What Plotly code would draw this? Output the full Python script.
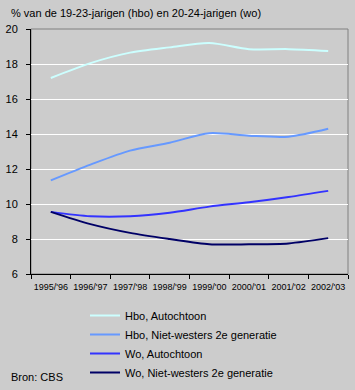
import plotly.graph_objects as go

categories = ["1995/'96", "1996/'97", "1997/'98", "1998/'99", "1999/'00", "2000/'01", "2001/'02", "2002/'03"]
hbo_autochtoon = [17.2, 18.05, 18.65, 18.95, 19.2, 18.85, 18.85, 18.75]
hbo_nw2 = [11.35, 12.25, 13.05, 13.5, 14.05, 13.9, 13.85, 14.3]
wo_autochtoon = [9.55, 9.3, 9.3, 9.5, 9.85, 10.1, 10.4, 10.75]
wo_nw2 = [9.55, 8.85, 8.35, 8.0, 7.7, 7.7, 7.75, 8.05]
y_ticks = [6, 8, 10, 12, 14, 16, 18, 20]

series = [
    ("Hbo, Autochtoon", hbo_autochtoon, "#CCFFFF"),
    ("Hbo, Niet-westers 2e generatie", hbo_nw2, "#6699FF"),
    ("Wo, Autochtoon", wo_autochtoon, "#3333FF"),
    ("Wo, Niet-westers 2e generatie", wo_nw2, "#000066"),
]

FONT = "Liberation Sans, Arial, sans-serif"
fig = go.Figure()
for name, vals, col in series:
    fig.add_trace(go.Scatter(x=categories, y=vals, name=name, mode="lines",
                             line=dict(color=col, width=2, shape="spline", smoothing=0.8)))

W, H = 317, 245
fig.update_layout(
    width=355, height=390,
    margin=dict(l=31, r=7, t=29, b=116, autoexpand=False),
    paper_bgcolor="#CCCCCC", plot_bgcolor="#CCCCCC",
    font=dict(family=FONT, size=11, color="black"),
    showlegend=True,
    legend=dict(x=54/W, xanchor="left", y=-(301-274)/H, yanchor="top",
                bgcolor="rgba(0,0,0,0)", font=dict(size=11), itemwidth=30,
                tracegroupgap=0, traceorder="normal"),
    annotations=[
        dict(text="% van de 19-23-jarigen (hbo) en 20-24-jarigen (wo)", xref="paper", yref="paper",
             x=-22/W, y=1 + 16/H, xanchor="left", yanchor="middle", showarrow=False,
             font=dict(size=11)),
        dict(text="Bron: CBS", xref="paper", yref="paper",
             x=-22/W, y=-(377-274)/H, xanchor="left", yanchor="middle", showarrow=False,
             font=dict(size=11)),
    ],
    shapes=[dict(type="rect", xref="paper", yref="paper", x0=0, x1=1, y0=0, y1=1,
                 line=dict(color="#808080", width=1), layer="below")],
)
fig.update_xaxes(type="category", range=[-0.5, 7.5], tickson="boundaries", ticks="outside",
                 ticklen=4, tickcolor="black", showline=True, linecolor="black", linewidth=1,
                 showgrid=False, tickfont=dict(size=9), tickangle=0, fixedrange=True,
                 automargin=False, ticklabelstandoff=4)
fig.update_yaxes(range=[6, 20], tickvals=y_ticks, ticks="outside", ticklen=4, tickcolor="black",
                 showline=True, linecolor="black", linewidth=1, showgrid=True, gridcolor="white",
                 gridwidth=1, zeroline=False, tickfont=dict(size=11), ticklabelstandoff=6,
                 fixedrange=True, automargin=False)

fig.write_html("out.html", config={"displayModeBar": False, "staticPlot": True},
               post_script="document.body.style.margin='0';document.body.style.background='#CCCCCC';")
